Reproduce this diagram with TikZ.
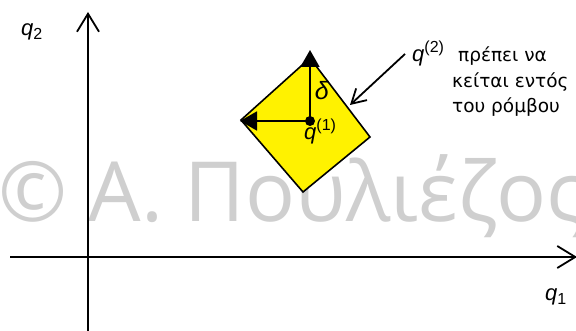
\documentclass[tikz,border=0pt]{standalone}
\usepackage{fontspec}
\setmainfont{Liberation Sans}
\newfontfamily\wmfont{Open Sans}
\newfontfamily\notefont{DejaVu Sans}
\usetikzlibrary{arrows.meta}

\newcommand{\qsub}[1]{\textit{q}\raisebox{-4pt}{\fontsize{16}{16}\selectfont #1}}
\newcommand{\qsup}[1]{\textit{q}\raisebox{9pt}{\fontsize{16}{16}\selectfont #1}}

\begin{document}
\begin{tikzpicture}[
  x=1pt,y=-1pt,
  axis/.style={-{Straight Barb[length=18pt,width=22pt]},line width=1.8pt},
  reach/.style={-{Triangle[length=17pt,width=19pt]},line width=1.8pt},
  pointer/.style={-{Straight Barb[length=14pt,width=16pt]},line width=1.8pt},
  lbl/.style={inner sep=0pt,font=\fontsize{22}{26}\selectfont},
  note/.style={inner sep=0pt,font=\notefont\fontsize{18.5}{25.5}\selectfont},
  region/.style={draw,line width=1.6pt,fill=yellow,line join=miter}
]
  \useasboundingbox (0,0) rectangle (576,331);

  % watermark
  \node[anchor=base west,inner sep=0pt,text=black!19,
    font=\wmfont\fontsize{83}{83}\selectfont] (wmark) at (-2,222) {© Α. Πουλιέζος};

  % axes
  \coordinate (ybot) at (88,336);
  \coordinate (ytop) at (88,12);
  \coordinate (xleft) at (10,257);
  \coordinate (xright) at (577,257);
  \draw[axis] (ybot) -- (ytop);
  \draw[axis] (xleft) -- (xright);
  \node[lbl,anchor=base west] (q2axis) at (21,36) {\qsub{2}};
  \node[lbl,anchor=base west] (q1axis) at (545,301) {\qsub{1}};

  % rhombus round q(1)
  \coordinate (left) at (241,120);
  \coordinate (top) at (310,58);
  \coordinate (right) at (370,137);
  \coordinate (bottom) at (303,192);
  \draw[region] (left) -- (top) -- (right) -- (bottom) -- cycle;

  \node[circle,fill,inner sep=0pt,minimum size=10pt] (q1pt) at (310,121) {};
  \coordinate (ttip) at (310,50);
  \coordinate (ltip) at (240,121);
  \draw[reach] (q1pt.center) -- (ttip);
  \draw[reach] (q1pt.center) -- (ltip);
  \node[lbl,font=\fontsize{25}{28}\selectfont] (dlt) at (322,91) {\textit{δ}};
  \node[lbl,anchor=base west] (q1lbl) at (304,140) {\qsup{(1)}};

  % note
  \node[lbl,anchor=base west] (q2lbl) at (412,62) {\qsup{(2)}};
  \node[note,anchor=north west,align=left] (rule) at (452,47)
    {\hspace{6pt}πρέπει να\\κείται εντός\\του ρόμβου};
  \coordinate (hit) at (350,105);
  \draw[pointer] ([xshift=-7pt]q2lbl.west) -- (hit);
\end{tikzpicture}
\end{document}
